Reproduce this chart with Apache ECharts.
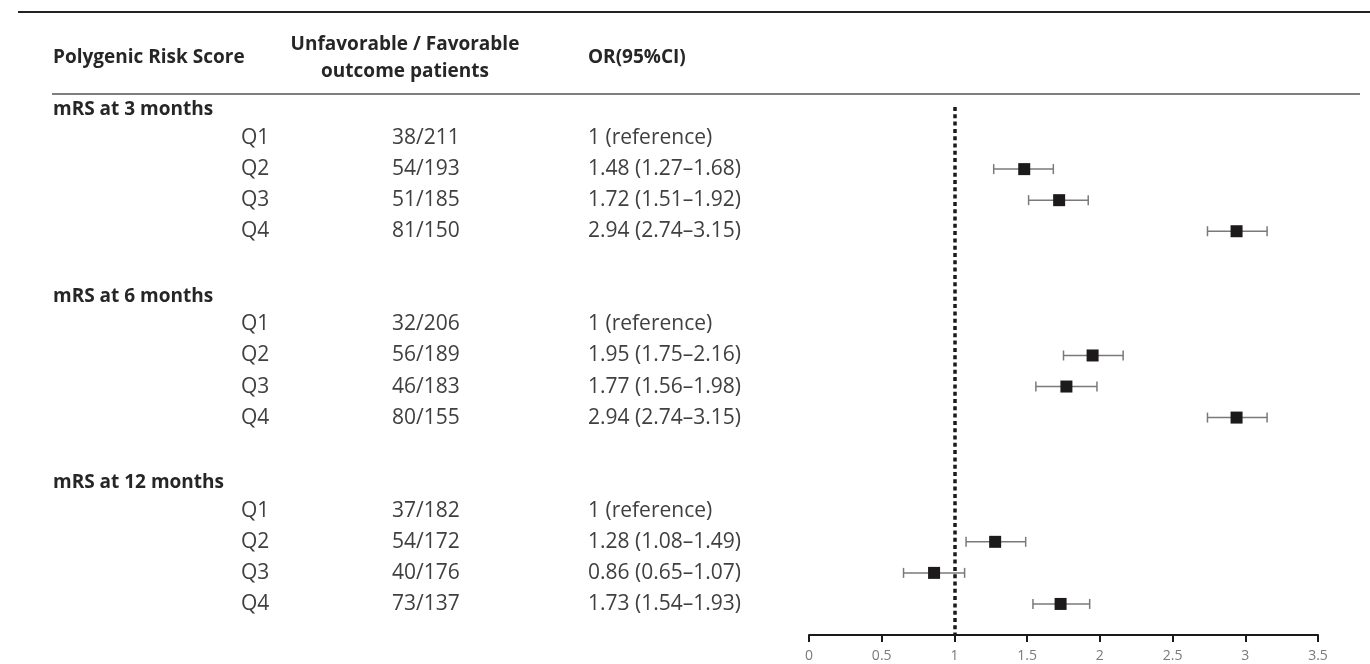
<!DOCTYPE html>
<html><head><meta charset="utf-8">
<script src="https://cdn.jsdelivr.net/npm/echarts@6/dist/echarts.min.js"></script>
<style>html,body{margin:0;padding:0;background:#fff}#c{width:1370px;height:664px}</style>
</head><body><div id="c"></div>
<script>
// ---- data ----
const groups = ['mRS at 3 months', 'mRS at 6 months', 'mRS at 12 months'];
const quartiles = ['Q1', 'Q2', 'Q3', 'Q4'];
const counts = [
  ['38/211', '54/193', '51/185', '81/150'],
  ['32/206', '56/189', '46/183', '80/155'],
  ['37/182', '54/172', '40/176', '73/137']
];
const orValues = [
  [1, 1.48, 1.72, 2.94],
  [1, 1.95, 1.77, 2.94],
  [1, 1.28, 0.86, 1.73]
];
const ciLow = [
  [null, 1.27, 1.51, 2.74],
  [null, 1.75, 1.56, 2.74],
  [null, 1.08, 0.65, 1.54]
];
const ciHigh = [
  [null, 1.68, 1.92, 3.15],
  [null, 2.16, 1.98, 3.15],
  [null, 1.49, 1.07, 1.93]
];
const columnTitles = ['Polygenic Risk Score', 'Unfavorable / Favorable', 'outcome patients', 'OR(95%CI)'];
const xMin = 0, xMax = 3.5, xStep = 0.5;
const refValue = 1;

// ---- build rows ----
const FONT = '"Open Sans", Lato, sans-serif';
const rows = [];
groups.forEach((g, gi) => {
  rows.push({ slot: gi * 6, kind: 'group', label: g });
  quartiles.forEach((q, qi) => {
    const or = orValues[gi][qi];
    const lo = ciLow[gi][qi], hi = ciHigh[gi][qi];
    const txt = lo == null ? or + ' (reference)'
      : or.toFixed(2) + ' (' + lo.toFixed(2) + '\u2013' + hi.toFixed(2) + ')';
    rows.push({ slot: gi * 6 + qi + 1, kind: 'q', q, count: counts[gi][qi], or, lo, hi, txt });
  });
});

const textData = rows.map(r => [0, r.slot]);
const ciData = rows.filter(r => r.kind === 'q' && r.lo != null).map(r => [r.lo, r.hi, r.slot]);
const pointData = rows.filter(r => r.kind === 'q' && r.lo != null).map(r => [r.or, r.slot]);

const HEAD = 'bold 19px ' + FONT;
const BODY = '21px ' + FONT;

const chart = echarts.init(document.getElementById('c'), null, { renderer: 'canvas' });
chart.setOption({
  animation: false,
  backgroundColor: '#fff',
  grid: { left: 809, right: 52, top: 107, bottom: 29 },
  xAxis: {
    type: 'value', min: xMin, max: xMax, interval: xStep, position: 'bottom',
    axisLine: { show: true, onZero: false, lineStyle: { color: '#1a1a1a', width: 2 } },
    axisTick: { show: true, inside: false, length: 7, lineStyle: { color: '#1a1a1a', width: 2 } },
    axisLabel: { color: '#7a7a7a', fontSize: 14, fontFamily: FONT, margin: 14 },
    splitLine: { show: false }
  },
  yAxis: { type: 'value', min: 0, max: 17, inverse: true, show: false },
  graphic: [
    { type: 'line', shape: { x1: 18, y1: 12, x2: 1370, y2: 12 }, style: { stroke: '#222', lineWidth: 2 } },
    { type: 'line', shape: { x1: 52, y1: 94, x2: 1360, y2: 94 }, style: { stroke: '#555', lineWidth: 1.5 } },
    { type: 'text', x: 53, y: 58, style: { text: columnTitles[0], font: HEAD, fill: '#262626', verticalAlign: 'middle' } },
    { type: 'text', x: 405, y: 45, style: { text: columnTitles[1], font: HEAD, fill: '#262626', align: 'center', verticalAlign: 'middle' } },
    { type: 'text', x: 405, y: 72, style: { text: columnTitles[2], font: HEAD, fill: '#262626', align: 'center', verticalAlign: 'middle' } },
    { type: 'text', x: 588, y: 58, style: { text: columnTitles[3], font: HEAD, fill: '#262626', verticalAlign: 'middle' } }
  ],
  series: [
    {
      type: 'custom', clip: false, silent: true, z: 3,
      data: textData,
      renderItem: (params, api) => {
        const r = rows[params.dataIndex];
        const y = api.coord([0, api.value(1)])[1];
        if (r.kind === 'group') {
          return { type: 'text', x: 53, y: y + 3, style: { text: r.label, font: HEAD, fill: '#262626', verticalAlign: 'middle' } };
        }
        const st = (t, x) => ({ type: 'text', x, y, style: { text: t, font: BODY, fill: '#404040', verticalAlign: 'middle' } });
        return { type: 'group', children: [st(r.q, 241), st(r.count, 392), st(r.txt, 588)] };
      }
    },
    {
      type: 'custom', clip: false, silent: true, z: 4,
      data: ciData,
      renderItem: (params, api) => {
        const a = api.coord([api.value(0), api.value(2)]);
        const b = api.coord([api.value(1), api.value(2)]);
        const s = { stroke: '#7a7a7a', lineWidth: 1.5 };
        return { type: 'group', children: [
          { type: 'line', shape: { x1: a[0], y1: a[1], x2: b[0], y2: b[1] }, style: s },
          { type: 'line', shape: { x1: a[0], y1: a[1] - 5, x2: a[0], y2: a[1] + 5 }, style: s },
          { type: 'line', shape: { x1: b[0], y1: b[1] - 5, x2: b[0], y2: b[1] + 5 }, style: s }
        ] };
      }
    },
    {
      type: 'scatter', z: 5, silent: true,
      data: pointData,
      symbol: 'rect', symbolSize: 12,
      itemStyle: { color: '#1c1a1b', opacity: 1 },
      markLine: {
        silent: true, symbol: 'none', label: { show: false },
        lineStyle: { color: '#1a1a1a', width: 3.5, type: [4, 3.3] },
        data: [{ xAxis: refValue }]
      }
    }
  ]
});
</script>
</body></html>
